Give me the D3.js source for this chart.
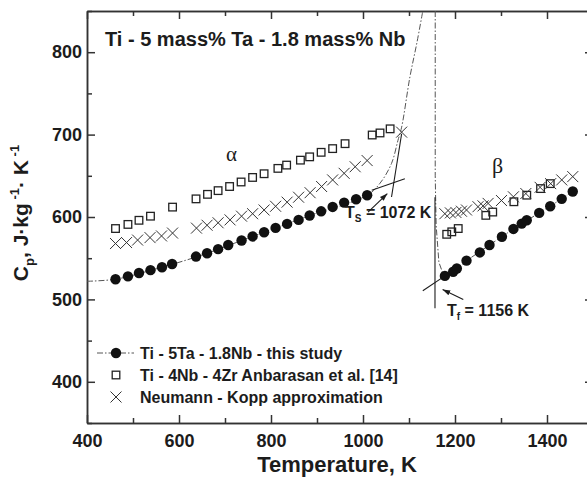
<!DOCTYPE html>
<html>
<head>
<meta charset="utf-8">
<script src="https://cdn.jsdelivr.net/npm/d3@7"></script>
<style>
body { margin: 0; background: #fff; }
svg { display: block; font-family: "Liberation Sans", Arial, sans-serif; font-weight: bold; }
</style>
</head>
<body>
<div id="chart"></div>
<script>
// Ti - 5Ta - 1.8Nb, this study (alpha and beta ranges)
var studyAlphaT  = [462, 489, 513, 538, 563, 585, 637, 661, 685, 707, 736, 760, 785, 810, 835, 860, 884, 909, 934, 959, 985, 1009];
var studyAlphaCp = [524.5, 528, 532, 535.5, 539, 543, 552, 556, 561, 566, 571.5, 576.4, 581.5, 586.8, 591.6, 596.5, 601.8, 606.9, 612.2, 617.5, 621.5, 626.4];
var studyBetaT   = [1178, 1196, 1204, 1225, 1254, 1275, 1302, 1327, 1345, 1356, 1383, 1407, 1432, 1456];
var studyBetaCp  = [528.5, 533.5, 537.5, 547, 557, 566, 576, 585.5, 592, 596, 605, 613, 622, 631];

// fitted curve of this study (dash-dot)
var fitAlphaT  = [400, 462, 540, 640, 760, 880, 1009, 1037, 1062, 1076, 1084, 1102, 1117, 1130];
var fitAlphaCp = [522, 524.5, 535.5, 552, 576.4, 601, 626.4, 641, 665, 693, 709, 770, 811, 850];
var fitBetaT   = [1157, 1157, 1159, 1165, 1174, 1178, 1196, 1225, 1275, 1327, 1383, 1432, 1456];
var fitBetaCp  = [850, 650, 590, 545, 531, 528.5, 533.5, 547, 566, 585.5, 605, 622, 631];

// Ti - 4Nb - 4Zr, Anbarasan et al. [14]
var anbT  = [462, 489, 513, 538, 586, 637, 662, 685, 710, 735, 760, 785, 815, 834, 864, 884, 909, 934, 961, 1020, 1037, 1059,
             1182, 1193, 1207, 1267, 1282, 1328, 1356, 1386, 1407];
var anbCp = [586, 591, 596, 601, 612, 622, 627.5, 632, 637, 642.5, 648, 652.5, 659, 663, 669, 673, 678.5, 683, 689, 699.5, 702, 707,
             579, 582, 586, 602, 606, 618.5, 626.5, 634.5, 640.5];

// Neumann - Kopp approximation
var nkT  = [462, 486, 510, 537, 562, 586, 638, 661, 685, 711, 736, 760, 785, 810, 835, 860, 885, 910, 934, 959, 983, 1009, 1084,
            1178, 1190, 1202, 1214, 1225, 1250, 1261, 1272, 1301, 1327, 1354, 1385, 1408, 1432, 1456];
var nkCp = [567.8, 569, 572, 575, 577, 580.5, 586.5, 590, 593, 596.5, 601, 604, 608.5, 613, 618, 624, 629.5, 637, 645, 653, 661, 668.5, 703,
            604, 605, 605.5, 607, 608.5, 612.5, 613.5, 616.5, 620, 624.5, 628.5, 636, 640.5, 645, 649];

var xMajor = [400, 600, 800, 1000, 1200, 1400];
var xMinor = [500, 700, 900, 1100, 1300, 1500];
var yMajor = [400, 500, 600, 700, 800];
var yMinor = [350, 450, 550, 650, 750, 850];

var legendLabels = ["Ti - 5Ta - 1.8Nb - this study", "Ti - 4Nb - 4Zr Anbarasan et al. [14]", "Neumann - Kopp approximation"];

var width = 587, height = 477;
var ink = "#1c1c1c";

var svg = d3.select("#chart").append("svg")
    .attr("width", width)
    .attr("height", height);

var x = d3.scaleLinear().domain([400, 1500]).range([87, 593]);
var y = d3.scaleLinear().domain([350, 850]).range([423, 11]);

function zip(a, b) {
    return a.map(function(d, i) { return [d, b[i]]; });
}

// axes: ticks point inward on all four sides
function styleAxis(g) {
    g.selectAll("path, line").attr("stroke", "#333").attr("stroke-width", 1.5);
    g.selectAll("text").attr("fill", ink).attr("font-size", 18)
        .attr("font-family", "Liberation Sans, Arial, sans-serif").attr("font-weight", "bold");
}
function ticksOnly(g) {
    styleAxis(g);
    g.selectAll("text").remove();
}

svg.append("g").attr("transform", "translate(0,423)")
    .call(d3.axisBottom(x).tickValues(xMajor).tickSize(-8).tickSizeOuter(0).tickPadding(11).tickFormat(d3.format("d")))
    .call(styleAxis);
svg.append("g").attr("transform", "translate(0,423)")
    .call(d3.axisBottom(x).tickValues(xMinor).tickSize(-5).tickSizeOuter(0))
    .call(ticksOnly);
svg.append("g").attr("transform", "translate(0,11)")
    .call(d3.axisTop(x).tickValues(xMajor).tickSize(-8).tickSizeOuter(0))
    .call(ticksOnly);
svg.append("g").attr("transform", "translate(0,11)")
    .call(d3.axisTop(x).tickValues(xMinor).tickSize(-5).tickSizeOuter(0))
    .call(ticksOnly);
svg.append("g").attr("transform", "translate(87,0)")
    .call(d3.axisLeft(y).tickValues(yMajor).tickSize(-8).tickSizeOuter(0).tickPadding(5))
    .call(styleAxis);
svg.append("g").attr("transform", "translate(87,0)")
    .call(d3.axisLeft(y).tickValues(yMinor).tickSize(-5).tickSizeOuter(0))
    .call(ticksOnly);
svg.append("g").attr("transform", "translate(593,0)")
    .call(d3.axisRight(y).tickValues(yMajor).tickSize(-8).tickSizeOuter(0))
    .call(ticksOnly);
svg.append("g").attr("transform", "translate(593,0)")
    .call(d3.axisRight(y).tickValues(yMinor).tickSize(-5).tickSizeOuter(0))
    .call(ticksOnly);

// axis titles
svg.append("text")
    .attr("x", 337).attr("y", 472)
    .attr("text-anchor", "middle")
    .attr("font-size", 22).attr("fill", ink)
    .text("Temperature, K");

var ylab = svg.append("text")
    .attr("transform", "translate(28,213) rotate(-90)")
    .attr("text-anchor", "middle")
    .attr("font-size", 21).attr("fill", ink);
ylab.append("tspan").text("C");
ylab.append("tspan").attr("font-size", 13).attr("dy", 6).text("p");
ylab.append("tspan").attr("dy", -6).text(", J\u00b7kg");
ylab.append("tspan").attr("font-size", 13).attr("dy", -9).text(" -1");
ylab.append("tspan").attr("dy", 9).text("\u00b7 K");
ylab.append("tspan").attr("font-size", 13).attr("dy", -9).text(" -1");

// fitted curves
var lineSmooth = d3.line().x(function(d) { return x(d[0]); }).y(function(d) { return y(d[1]); })
    .curve(d3.curveCatmullRom.alpha(0.5));
var lineStraight = d3.line().x(function(d) { return x(d[0]); }).y(function(d) { return y(d[1]); });

svg.append("path").datum(zip(fitAlphaT, fitAlphaCp))
    .attr("d", lineSmooth)
    .attr("fill", "none").attr("stroke", "#555").attr("stroke-width", 1)
    .attr("stroke-dasharray", "6,2,1.5,2");
svg.append("path").datum(zip(fitBetaT, fitBetaCp))
    .attr("d", lineStraight)
    .attr("fill", "none").attr("stroke", "#555").attr("stroke-width", 1)
    .attr("stroke-dasharray", "6,2,1.5,2");

// tangent construction lines and arrows
var defs = svg.append("defs");
defs.append("marker").attr("id", "arr")
    .attr("viewBox", "0 0 10 10").attr("refX", 10).attr("refY", 5)
    .attr("markerWidth", 7).attr("markerHeight", 7).attr("orient", "auto")
    .append("path").attr("d", "M0,1.5 L10,5 L0,8.5 Z").attr("fill", ink);

var tangents = [
    [[1019, 632.4], [1091, 646.5]],
    [[1062, 624.3], [1084, 701]],
    [[1156.5, 624], [1156.5, 489.4]],
    [[1130, 510.4], [1175, 527.3]]
];
svg.selectAll(".tan").data(tangents).enter().append("path")
    .attr("d", lineStraight)
    .attr("fill", "none").attr("stroke", ink).attr("stroke-width", 1.1);

var arrows = [
    [[1011, 606], [1053, 628.4]],
    [[1218, 500], [1173, 512]]
];
svg.selectAll(".arr").data(arrows).enter().append("path")
    .attr("d", lineStraight)
    .attr("fill", "none").attr("stroke", ink).attr("stroke-width", 1.1)
    .attr("marker-end", "url(#arr)");

// markers
svg.append("g").selectAll("rect").data(zip(anbT, anbCp)).enter().append("rect")
    .attr("x", function(d) { return x(d[0]) - 3.8; })
    .attr("y", function(d) { return y(d[1]) - 3.8; })
    .attr("width", 7.6).attr("height", 7.6)
    .attr("fill", "none").attr("stroke", "#222").attr("stroke-width", 1.3);

function crossPath(cx, cy, s) {
    return "M" + (cx - s) + "," + (cy - s) + "L" + (cx + s) + "," + (cy + s) +
           "M" + (cx - s) + "," + (cy + s) + "L" + (cx + s) + "," + (cy - s);
}
svg.append("g").selectAll("path").data(zip(nkT, nkCp)).enter().append("path")
    .attr("d", function(d) { return crossPath(x(d[0]), y(d[1]), 5.5); })
    .attr("fill", "none").attr("stroke", "#333").attr("stroke-width", 1);

svg.append("g").selectAll("circle").data(zip(studyAlphaT.concat(studyBetaT), studyAlphaCp.concat(studyBetaCp))).enter()
    .append("circle")
    .attr("cx", function(d) { return x(d[0]); })
    .attr("cy", function(d) { return y(d[1]); })
    .attr("r", 5.2)
    .attr("fill", "#111");

// annotations
svg.append("text").attr("x", 105).attr("y", 46)
    .attr("font-size", 20).attr("fill", ink)
    .text("Ti - 5 mass% Ta - 1.8 mass% Nb");

svg.append("text").attr("x", 226).attr("y", 161)
    .attr("font-family", "Liberation Serif, Times New Roman, serif").attr("font-weight", "normal")
    .attr("font-size", 21).attr("fill", ink).text("\u03b1");
svg.append("text").attr("x", 492).attr("y", 173)
    .attr("font-family", "Liberation Serif, Times New Roman, serif").attr("font-weight", "normal")
    .attr("font-size", 22).attr("fill", ink).text("\u03b2");

var ts = svg.append("text").attr("x", 345).attr("y", 218).attr("font-size", 16).attr("fill", ink);
ts.append("tspan").text("T");
ts.append("tspan").attr("font-size", 10).attr("dy", 4).text("S");
ts.append("tspan").attr("dy", -4).text(" = 1072 K");

var tf = svg.append("text").attr("x", 447).attr("y", 316).attr("font-size", 16).attr("fill", ink);
tf.append("tspan").text("T");
tf.append("tspan").attr("font-size", 10).attr("dy", 4).text("f");
tf.append("tspan").attr("dy", -4).text(" = 1156 K");

// legend
var leg = svg.append("g");
var legY = [353, 375, 397];
leg.append("line").attr("x1", 97).attr("x2", 134).attr("y1", legY[0]).attr("y2", legY[0])
    .attr("stroke", "#555").attr("stroke-width", 1).attr("stroke-dasharray", "6,2,1.5,2");
leg.append("circle").attr("cx", 116).attr("cy", legY[0]).attr("r", 5.2).attr("fill", "#111");
leg.append("rect").attr("x", 112.2).attr("y", legY[1] - 3.8).attr("width", 7.6).attr("height", 7.6)
    .attr("fill", "none").attr("stroke", "#222").attr("stroke-width", 1.3);
leg.append("path").attr("d", crossPath(116, legY[2], 5.5))
    .attr("fill", "none").attr("stroke", "#333").attr("stroke-width", 1);
leg.selectAll("text").data(legendLabels).enter().append("text")
    .attr("x", 140).attr("y", function(d, i) { return legY[i] + 5.5; })
    .attr("font-size", 16).attr("fill", ink)
    .text(function(d) { return d; });
</script>
</body>
</html>
